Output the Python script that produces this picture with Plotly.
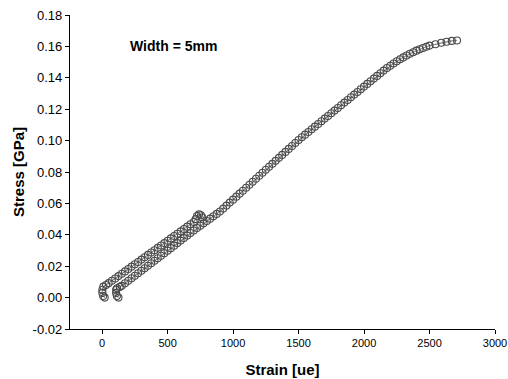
import plotly.graph_objects as go

# Curve A (first loading, starts at 0 ue)
strain_a = [20, 8, 2, 2, 10, 30, 50, 75, 100, 125, 150, 175, 200, 225, 250,
            275, 300, 325, 350, 375, 400, 425, 450, 475, 500, 525, 550, 575,
            600, 625, 650, 675, 700, 715, 725, 740, 755, 765]
stress_a = [0.000, 0.001, 0.003, 0.005, 0.007, 0.008, 0.0092, 0.0107, 0.0122,
            0.0137, 0.0152, 0.0167, 0.0182, 0.0197, 0.0212, 0.0227, 0.0242,
            0.0257, 0.0272, 0.0287, 0.0302, 0.0317, 0.0332, 0.0347, 0.0362,
            0.0377, 0.0392, 0.0407, 0.0422, 0.0437, 0.0452, 0.0467, 0.0482,
            0.0500, 0.0520, 0.0530, 0.0525, 0.0510]

# Curve B (second loading, starts at ~100 ue)
strain_b = [125, 113, 107, 107, 115, 135, 150, 175, 200, 225, 250, 275, 300,
            325, 350, 375, 400, 425, 450, 475, 500, 525, 550, 575, 600, 625,
            650, 675, 700, 725, 750, 775, 800, 825, 850, 875, 900, 925, 950,
            975, 1000, 1025, 1050, 1075, 1100, 1125, 1150, 1175, 1200, 1225,
            1250, 1275, 1300, 1325, 1350, 1375, 1400, 1425, 1450, 1475, 1500,
            1525, 1550, 1575, 1600, 1625, 1650, 1675, 1700, 1725, 1750, 1775,
            1800, 1825, 1850, 1875, 1900, 1925, 1950, 1975, 2000, 2025, 2050,
            2075, 2100, 2125, 2150, 2175, 2200, 2225, 2250, 2275, 2300, 2325,
            2350, 2375, 2400, 2425, 2450, 2475, 2500, 2545, 2590, 2630, 2670,
            2710]
stress_b = [0.000, 0.001, 0.003, 0.005, 0.006, 0.0068, 0.0075, 0.0091, 0.0107,
            0.0123, 0.0139, 0.0155, 0.0171, 0.0187, 0.0203, 0.0219, 0.0235,
            0.0251, 0.0267, 0.0283, 0.0299, 0.0315, 0.0331, 0.0347, 0.0363,
            0.0379, 0.0395, 0.0411, 0.0427, 0.0443, 0.0458, 0.0473, 0.0488,
            0.0503, 0.0518, 0.0533, 0.0548, 0.0567, 0.0586, 0.0605, 0.0624,
            0.0643, 0.0662, 0.0681, 0.0700, 0.0719, 0.0738, 0.0757, 0.0776,
            0.0795, 0.0814, 0.0833, 0.0852, 0.0871, 0.0890, 0.0909, 0.0928,
            0.0947, 0.0966, 0.0985, 0.1004, 0.1021, 0.1038, 0.1055, 0.1072,
            0.1089, 0.1106, 0.1123, 0.1140, 0.1157, 0.1174, 0.1191, 0.1208,
            0.1225, 0.1242, 0.1259, 0.1276, 0.1293, 0.1310, 0.1327, 0.1344,
            0.1361, 0.1378, 0.1395, 0.1412, 0.1429, 0.1446, 0.1462, 0.1477,
            0.1491, 0.1505, 0.1518, 0.1530, 0.1542, 0.1553, 0.1563, 0.1573,
            0.1582, 0.1590, 0.1598, 0.1605, 0.1614, 0.1623, 0.1630, 0.1635,
            0.1638]

y_ticks = [-0.02, 0.00, 0.02, 0.04, 0.06, 0.08, 0.10, 0.12, 0.14, 0.16, 0.18]
y_labels = ["-0.02", "0.00", "0.02", "0.04", "0.06", "0.08", "0.10", "0.12",
            "0.14", "0.16", "0.18"]
x_ticks = [0, 500, 1000, 1500, 2000, 2500, 3000]

FONT = "Liberation Sans, Arial, sans-serif"
marker = dict(symbol="circle-open", size=7, color="#4a4a4a",
              line=dict(width=1.1, color="#4a4a4a"))

fig = go.Figure()
for sx, sy in ((strain_a, stress_a), (strain_b, stress_b)):
    fig.add_trace(go.Scatter(x=sx, y=sy, mode="lines+markers",
                             line=dict(color="#8a8a8a", width=1.2),
                             marker=marker, showlegend=False))

fig.add_annotation(x=200, y=0.1605, xanchor="left", yanchor="middle",
                   text="<b>Width = 5mm</b>", showarrow=False,
                   font=dict(family=FONT, size=14, color="black"))

axis_common = dict(showline=True, linecolor="black", linewidth=1.3,
                   showgrid=False, zeroline=False, mirror=False,
                   automargin=False,
                   ticks="outside", ticklen=4, tickcolor="black", tickwidth=1.2,
                   minor=dict(ticks="outside", ticklen=2, tickcolor="black",
                              tickwidth=1, nticks=2, showgrid=False))

fig.update_xaxes(range=[-245, 3000], tickvals=x_ticks,
                 tickfont=dict(family=FONT, size=11, color="black"),
                 title=dict(text="<b>Strain [ue]</b>", standoff=16,
                            font=dict(family=FONT, size=15, color="black")),
                 **axis_common)
fig.update_yaxes(range=[-0.02, 0.18], tickvals=y_ticks, ticktext=y_labels,
                 tickfont=dict(family=FONT, size=13, color="black"),
                 title=dict(text="<b>Stress [GPa]</b>", standoff=4,
                            font=dict(family=FONT, size=15, color="black")),
                 **axis_common)

fig.update_layout(width=508, height=379, plot_bgcolor="white",
                  paper_bgcolor="white",
                  margin=dict(l=70, r=13, t=15, b=50))

fig.write_html("out.html", config={"displayModeBar": False},
               post_script="document.body.style.margin='0';"
                           "document.body.style.overflow='hidden';")
